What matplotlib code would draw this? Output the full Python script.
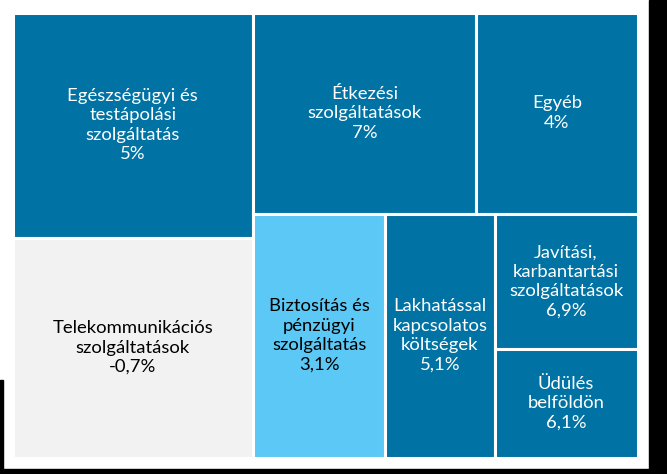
import matplotlib
matplotlib.use("Agg")
import matplotlib.pyplot as plt
from matplotlib.patches import Rectangle

# tile labels, values and tile weights (read from the tile areas)
labels = [
    "Egészségügyi és\ntestápolási\nszolgáltatás",
    "Telekommunikációs\nszolgáltatások",
    "Étkezési\nszolgáltatások",
    "Egyéb",
    "Biztosítás és\npénzügyi\nszolgáltatás",
    "Lakhatással\nkapcsolatos\nköltségek",
    "Javítási,\nkarbantartási\nszolgáltatások",
    "Üdülés\nbelföldön",
]
values = ["5%", "-0,7%", "7%", "4%", "3,1%", "5,1%", "6,9%", "6,1%"]
weights = [19.47, 19.03, 16.13, 11.66, 11.56, 9.60, 6.98, 5.55]

dark = "#0072A3"
light_blue = "#5BC8F5"
grey = "#F2F2F2"
colors = [dark, grey, dark, dark, light_blue, dark, dark, dark]
text_colors = ["white", "black", "white", "white", "black", "white", "white", "white"]

# nesting of the treemap: "h" = side by side, "v" = stacked
tree = ("h", [("v", [0, 1]),
              ("v", [("h", [2, 3]),
                     ("h", [4, 5, ("v", [6, 7])])])])


def total(node):
    if isinstance(node, int):
        return weights[node]
    return sum(total(c) for c in node[1])


def layout(node, x, y, w, h, out):
    if isinstance(node, int):
        out[node] = (x, y, w, h)
        return
    kind, children = node
    s = total(node)
    pos = 0.0
    for c in children:
        f = total(c) / s
        if kind == "h":
            layout(c, x + pos * w, y, w * f, h, out)
        else:
            layout(c, x, y + pos * h, w, h * f, out)
        pos += f


plt.rcParams["font.family"] = ["Lato", "DejaVu Sans"]

fig = plt.figure(figsize=(6.67, 4.74), dpi=100)
ax = fig.add_axes([0, 0, 1, 1])
ax.set_xlim(0, 667)
ax.set_ylim(474, 0)
ax.axis("off")

# dark frame edge at the right and bottom
ax.add_patch(Rectangle((649, 0), 18, 474, color="black", zorder=0))
ax.add_patch(Rectangle((0, 469), 667, 5, color="black", zorder=0))
ax.add_patch(Rectangle((0, 380), 2.5, 94, color="black", zorder=0))

rects = {}
layout(tree, 12.5, 12.5, 625, 445, rects)

for i in range(len(labels)):
    x, y, w, h = rects[i]
    ax.add_patch(Rectangle((x, y), w, h, facecolor=colors[i],
                           edgecolor="white", linewidth=2.2, zorder=1))
    ax.text(x + w / 2, y + h / 2, labels[i] + "\n" + values[i],
            ha="center", va="center", color=text_colors[i],
            fontsize=13.3, linespacing=1.27, zorder=2)

fig.savefig("out.png", dpi=100)
